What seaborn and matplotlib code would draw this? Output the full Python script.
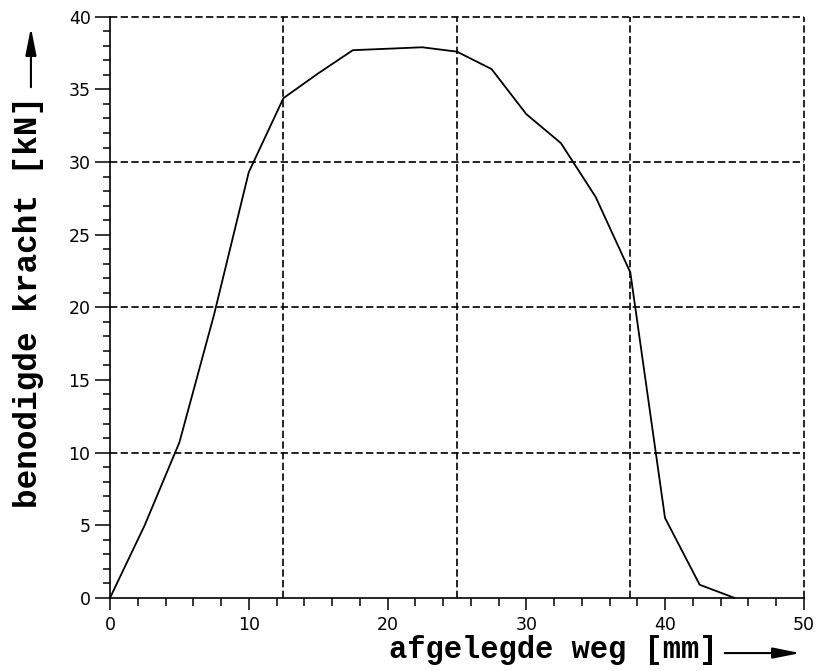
import pandas as pd
import matplotlib
matplotlib.use("Agg")
import matplotlib.pyplot as plt
from matplotlib.ticker import MultipleLocator
import seaborn as sns

# data (2.5 mm steps)
weg = [0, 2.5, 5, 7.5, 10, 12.5, 15, 17.5, 20, 22.5, 25,
       27.5, 30, 32.5, 35, 37.5, 40, 42.5, 45]
kracht = [0, 5.0, 10.7, 19.5, 29.3, 34.4, 36.1, 37.7, 37.8, 37.9, 37.6,
          36.4, 33.3, 31.3, 27.6, 22.4, 5.5, 0.9, 0]

x_grid = [12.5, 25, 37.5, 50]
y_grid = [10, 20, 30, 40]

xlabel = "afgelegde weg [mm]"
ylabel = "benodigde kracht [kN]"


def setup_style():
    sns.set_theme(style="ticks")
    plt.rcParams["font.family"] = ["DejaVu Sans"]
    plt.rcParams["axes.edgecolor"] = "black"
    plt.rcParams["axes.labelcolor"] = "black"
    plt.rcParams["text.color"] = "black"
    plt.rcParams["xtick.color"] = "black"
    plt.rcParams["ytick.color"] = "black"


def make_plot():
    df = pd.DataFrame({"weg": weg, "kracht": kracht})

    fig = plt.figure(figsize=(8.21, 6.71), dpi=100)
    ax = fig.add_axes([0.134, 0.109, 0.845, 0.866])

    # dashed grid (also forms the top and right border)
    for xv in x_grid:
        ax.axvline(xv, color="black", lw=1.2, dashes=(4.4, 2.0), clip_on=False, zorder=1)
    for yv in y_grid:
        ax.axhline(yv, color="black", lw=1.2, dashes=(4.4, 2.0), clip_on=False, zorder=1)

    sns.lineplot(data=df, x="weg", y="kracht", ax=ax, color="black", lw=1.3,
                 zorder=3, clip_on=False)

    ax.set_xlim(0, 50)
    ax.set_ylim(0, 40)
    ax.xaxis.set_major_locator(MultipleLocator(10))
    ax.xaxis.set_minor_locator(MultipleLocator(2))
    ax.yaxis.set_major_locator(MultipleLocator(5))
    ax.yaxis.set_minor_locator(MultipleLocator(1))

    ax.spines["top"].set_visible(False)
    ax.spines["right"].set_visible(False)
    for s in ["left", "bottom"]:
        ax.spines[s].set_linewidth(1.2)

    ax.tick_params(which="both", bottom=True, left=True, top=False, right=False)
    ax.tick_params(axis="x", which="major", direction="out", length=8.5, width=1.1,
                   pad=4.5, labelsize=12.5)
    ax.tick_params(axis="x", which="minor", direction="out", length=6, width=1.1)
    ax.tick_params(axis="y", which="major", direction="out", length=10.5, width=1.1,
                   pad=3.5, labelsize=12.5)
    ax.tick_params(axis="y", which="minor", direction="out", length=5, width=1.1)

    mono = ["Liberation Mono", "DejaVu Sans Mono"]
    ax.set_xlabel(xlabel, ha="right", va="top", family=mono, size=22, weight="bold")
    ax.xaxis.set_label_coords(0.876, -0.064)
    ax.set_ylabel(ylabel, ha="left", va="center", family=mono, size=23.5, weight="bold")
    ax.yaxis.set_label_coords(-0.118, 0.155)

    arrow = dict(arrowstyle="-|>,head_length=1.5,head_width=0.3", lw=1.5,
                 color="black", mutation_scale=11)
    ax.annotate("", xy=(0.999, -0.095), xytext=(0.882, -0.095),
                xycoords="axes fraction", arrowprops=arrow, annotation_clip=False)
    ax.annotate("", xy=(-0.114, 0.986), xytext=(-0.114, 0.874),
                xycoords="axes fraction", arrowprops=arrow, annotation_clip=False)

    return fig


def main():
    setup_style()
    fig = make_plot()
    fig.savefig("out.png", dpi=100)


if __name__ == "__main__":
    main()
